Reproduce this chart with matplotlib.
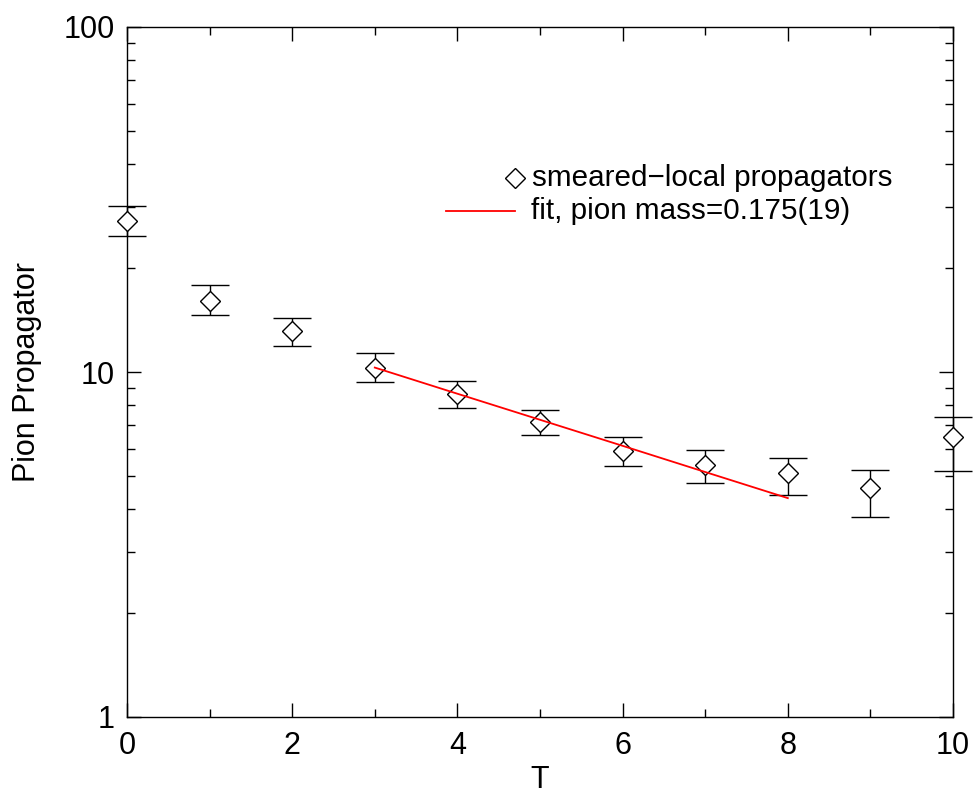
import matplotlib
matplotlib.use("Agg")
import matplotlib.pyplot as plt
from matplotlib.ticker import FixedLocator, NullFormatter, LogLocator

plt.rcParams['font.family'] = ['Liberation Sans', 'DejaVu Sans']

# data
T = [0, 1, 2, 3, 4, 5, 6, 7, 8, 9, 10]
prop = [27.4, 16.06, 13.15, 10.27, 8.63, 7.15, 5.91, 5.37, 5.09, 4.60, 6.49]
err_hi = [30.3, 17.9, 14.3, 11.35, 9.42, 7.78, 6.48, 5.93, 5.65, 5.19, 7.42]
err_lo = [24.8, 14.6, 11.9, 9.35, 7.85, 6.55, 5.35, 4.78, 4.40, 3.81, 5.17]

fit_T = [3, 4, 5, 6, 7, 8]
fit_vals = [10.3, 8.65, 7.27, 6.11, 5.13, 4.31]

x_ticks = [0, 2, 4, 6, 8, 10]
x_minor = [1, 3, 5, 7, 9]
y_ticks = [1, 10, 100]
y_ticklabels = ['1', '10', '100']

legend_labels = ['smeared\u2212local propagators', 'fit, pion mass=0.175(19)']

fig = plt.figure(figsize=(9.76, 8.0), dpi=100)
ax = fig.add_axes([127/976, 1 - 717/800, (953-127)/976, (717-27)/800])

yerr = [[p - l for p, l in zip(prop, err_lo)], [h - p for p, h in zip(prop, err_hi)]]
ax.errorbar(T, prop, yerr=yerr, fmt='D', mfc='white', mec='black', mew=1.0,
            ms=10.5, ecolor='black', elinewidth=1.0, capsize=19/100*72, capthick=1.0,
            zorder=3, clip_on=False)
ax.plot(fit_T, fit_vals, color='red', lw=1.3, zorder=4)

ax.set_yscale('log')
ax.set_xlim(0, 10)
ax.set_ylim(1, 100)
ax.xaxis.set_major_locator(FixedLocator(x_ticks))
ax.xaxis.set_minor_locator(FixedLocator(x_minor))
ax.yaxis.set_major_locator(FixedLocator(y_ticks))
ax.set_yticklabels(y_ticklabels)
ax.yaxis.set_minor_locator(LogLocator(base=10, subs=range(2, 10)))
ax.yaxis.set_minor_formatter(NullFormatter())

ax.tick_params(which='both', direction='in', top=True, right=True, width=1.0,
               labelsize=22, colors='black')
ax.tick_params(which='major', length=10)
ax.tick_params(which='minor', length=6)
ax.tick_params(axis='x', pad=10)
ax.tick_params(axis='y', pad=9)
for s in ax.spines.values():
    s.set_linewidth(1.0)

ax.set_xlabel('T', fontsize=22, labelpad=3)
ax.set_ylabel('Pion Propagator', fontsize=22, labelpad=15)

# legend drawn manually (no frame)
def ax_frac(px, py):
    return ((px - 127) / (953 - 127), (717 - py) / (717 - 27))

mx, my = ax_frac(515, 178)
ax.plot([mx], [my], marker='D', ms=10.5, mfc='white', mec='black', mew=1.0,
        transform=ax.transAxes, clip_on=False)
tx, ty = ax_frac(532, 178)
ax.text(tx, ty, legend_labels[0], transform=ax.transAxes, fontsize=21.3,
        va='center', ha='left')
l0x, l0y = ax_frac(446, 211)
l1x, _ = ax_frac(515, 211)
ax.plot([l0x, l1x], [l0y, l0y], color='red', lw=1.3, transform=ax.transAxes)
tx2, ty2 = ax_frac(531, 211)
ax.text(tx2, ty2, legend_labels[1], transform=ax.transAxes, fontsize=21.3,
        va='center', ha='left')

fig.savefig('out.png', dpi=100)
